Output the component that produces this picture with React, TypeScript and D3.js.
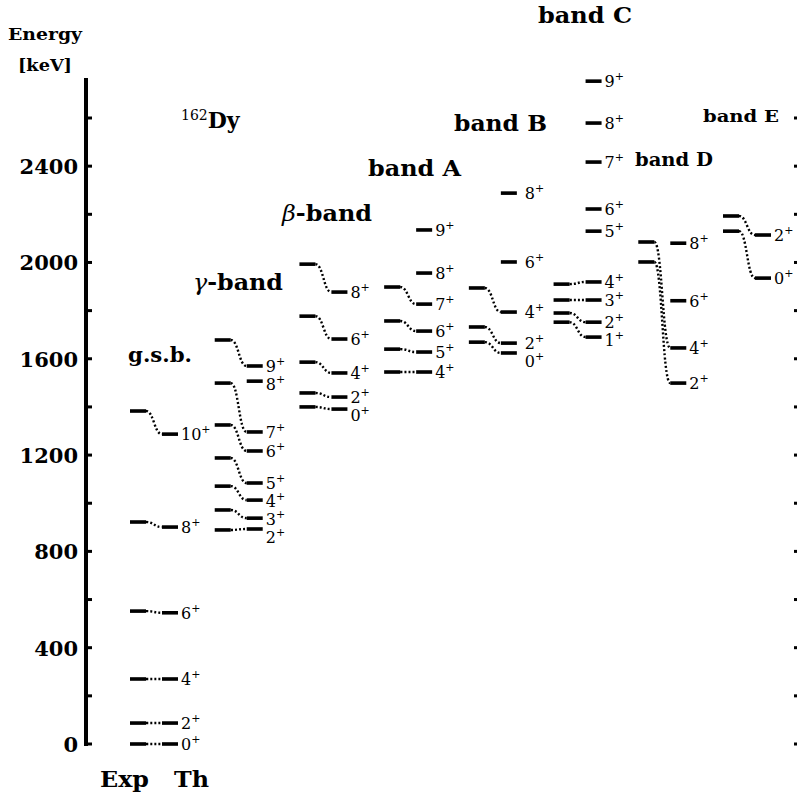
import React, { useRef, useEffect } from "react";
import * as d3 from "d3";

// band order left to right
const bandKeys = ["gsb", "gamma", "beta", "A", "B", "C", "D", "E"];

// spins and energies (keV), null = no level
const gsbSpins = [0, 2, 4, 6, 8, 10];
const gsbExp = [0, 87, 270, 552, 922, 1383];
const gsbTh = [0, 87, 270, 545, 901, 1287];

const gammaSpins = [2, 3, 4, 5, 6, 7, 8, 9];
const gammaExp = [889, 972, 1071, 1188, 1325, 1499, null, 1678];
const gammaTh = [893, 938, 1013, 1084, 1217, 1296, 1507, 1570];

const betaSpins = [0, 2, 4, 6, 8];
const betaExp = [1400, 1458, 1586, 1777, 1993];
const betaTh = [1391, 1441, 1541, 1682, 1877];

const aSpins = [4, 5, 6, 7, 8, 9];
const aExp = [1545, 1640, 1757, 1898, null, null];
const aTh = [1545, 1628, 1715, 1827, 1956, 2135];

const bSpins = [0, 2, 4, 6, 8];
const bExp = [1669, 1732, 1894, null, null];
const bTh = [1624, 1665, 1794, 2002, 2288];

const cSpins = [1, 2, 3, 4, 5, 6, 7, 8, 9];
const cExp = [1752, 1790, 1844, 1910, null, null, null, null, null];
const cTh = [1690, 1752, 1844, 1919, 2130, 2222, 2417, 2579, 2753];

const dSpins = [2, 4, 6, 8];
const dExp = [2002, 2085, null, null];
const dTh = [1499, 1645, 1841, 2080];

const eSpins = [0, 2];
const eExp = [2130, 2193];
const eTh = [1935, 2114];

const axisTicks = d3.range(0, 2601, 200);
const axisLabels = [0, 400, 800, 1200, 1600, 2000, 2400];

const bands = [
  { spins: gsbSpins, exp: gsbExp, th: gsbTh },
  { spins: gammaSpins, exp: gammaExp, th: gammaTh },
  { spins: betaSpins, exp: betaExp, th: betaTh },
  { spins: aSpins, exp: aExp, th: aTh },
  { spins: bSpins, exp: bExp, th: bTh },
  { spins: cSpins, exp: cExp, th: cTh },
  { spins: dSpins, exp: dExp, th: dTh },
  { spins: eSpins, exp: eExp, th: eTh },
];

const W = 799;
const H = 793;
const SERIF = "'DejaVu Serif', 'Liberation Serif', serif";

export default function App() {
  const ref = useRef<SVGSVGElement>(null);

  useEffect(() => {
    const svg = d3.select(ref.current);
    svg.selectAll("*").remove();
    svg.append("rect").attr("width", W).attr("height", H).attr("fill", "#fff");

    const y = d3.scaleLinear().domain([0, 2600]).range([744, 118]);
    const x = d3.scaleLinear().domain([0, bandKeys.length - 1]).range([130, 723]);
    const lineLen = 16;
    const thOff = 32;

    // left axis
    const ax = svg.append("g");
    ax.append("line")
      .attr("x1", 86).attr("x2", 86)
      .attr("y1", y(2766)).attr("y2", y(0) + 2)
      .attr("stroke", "#000").attr("stroke-width", 4);
    ax.selectAll("line.tick")
      .data(axisTicks)
      .enter()
      .append("line")
      .attr("class", "tick")
      .attr("x1", 86).attr("x2", 92)
      .attr("y1", d => y(d)).attr("y2", d => y(d))
      .attr("stroke", "#000").attr("stroke-width", 3);
    ax.selectAll("text")
      .data(axisLabels)
      .enter()
      .append("text")
      .attr("x", 78)
      .attr("y", d => y(d) + 8)
      .attr("text-anchor", "end")
      .attr("font-family", SERIF)
      .attr("font-weight", "bold")
      .attr("font-size", 21)
      .text(d => d);

    // right dotted ticks
    svg.selectAll("rect.rdot")
      .data(axisTicks)
      .enter()
      .append("rect")
      .attr("class", "rdot")
      .attr("x", 794).attr("y", d => y(d) - 1.5)
      .attr("width", 3).attr("height", 3)
      .attr("fill", "#000");

    const link = d3.linkHorizontal<any, [number, number]>()
      .source((d: any) => d[0])
      .target((d: any) => d[1]);

    bands.forEach((band, bi) => {
      const g = svg.append("g");
      const ex0 = x(bi);
      const tx0 = ex0 + thOff;
      const labelGap = bandKeys[bi] === "B" ? 8 : 3;

      const levels = band.spins.map((s, i) => ({ spin: s, exp: band.exp[i], th: band.th[i] }));

      // connectors
      g.selectAll("path")
        .data(levels.filter(l => l.exp != null && l.th != null))
        .enter()
        .append("path")
        .attr("d", l => link([[ex0 + lineLen, y(l.exp as number)], [tx0, y(l.th as number)]] as any))
        .attr("fill", "none")
        .attr("stroke", "#000")
        .attr("stroke-width", 2.4)
        .attr("stroke-dasharray", "2 2.2");

      // experimental levels
      g.selectAll("line.exp")
        .data(levels.filter(l => l.exp != null))
        .enter()
        .append("line")
        .attr("class", "exp")
        .attr("x1", ex0).attr("x2", ex0 + lineLen)
        .attr("y1", l => y(l.exp as number)).attr("y2", l => y(l.exp as number))
        .attr("stroke", "#000").attr("stroke-width", 3.6);

      // theoretical levels
      const thLevels = levels.filter(l => l.th != null);
      g.selectAll("line.th")
        .data(thLevels)
        .enter()
        .append("line")
        .attr("class", "th")
        .attr("x1", tx0).attr("x2", tx0 + lineLen)
        .attr("y1", l => y(l.th as number)).attr("y2", l => y(l.th as number))
        .attr("stroke", "#000").attr("stroke-width", 3.6);

      // spin labels, pushed apart top to bottom
      const sorted = thLevels.slice().sort((a, b) => (b.th as number) - (a.th as number));
      let prev = -Infinity;
      const placed = sorted.map(l => {
        const ly = Math.max(y(l.th as number), prev + 18);
        prev = ly;
        return { ...l, ly };
      });
      const t = g.selectAll("text.lbl")
        .data(placed)
        .enter()
        .append("text")
        .attr("class", "lbl")
        .attr("x", tx0 + lineLen + labelGap)
        .attr("y", l => l.ly + 6)
        .attr("font-family", SERIF)
        .attr("font-size", 16);
      t.append("tspan").text(l => l.spin);
      t.append("tspan").attr("dy", -7).attr("font-size", 11).text("+");
    });

    // titles
    const bold = (txt: string, px: number, py: number, fs: number, w?: number) => {
      const el = svg.append("text")
        .attr("x", px).attr("y", py)
        .attr("font-family", SERIF)
        .attr("font-weight", "bold")
        .attr("font-size", fs)
        .text(txt);
      if (w) el.attr("textLength", w).attr("lengthAdjust", "spacingAndGlyphs");
      return el;
    };
    bold("Energy", 8, 40, 17, 74);
    bold("[keV]", 18, 71, 17, 54);
    bold("g.s.b.", 128, 362, 21, 64);
    bold("band A", 368, 176, 22, 93);
    bold("band B", 454, 131, 22, 93);
    bold("band C", 538, 23, 22, 94);
    bold("band D", 635, 166, 18, 78);
    bold("band E", 703, 122, 17, 76);
    bold("Exp", 100, 787, 22, 49);
    bold("Th", 174, 787, 22, 35);

    const greek = (sym: string, px: number, py: number) => {
      const el = svg.append("text")
        .attr("x", px).attr("y", py)
        .attr("font-family", SERIF)
        .attr("font-size", 22);
      el.append("tspan").attr("font-style", "italic").text(sym);
      el.append("tspan").attr("font-weight", "bold").text("-band");
      el.attr("textLength", 90).attr("lengthAdjust", "spacingAndGlyphs");
    };
    greek("γ", 193, 290);
    greek("β", 282, 221);

    const dy = svg.append("text").attr("x", 181).attr("y", 128).attr("font-family", SERIF);
    dy.append("tspan").attr("font-size", 14).attr("dy", -8).text("162");
    dy.append("tspan").attr("font-size", 22).attr("font-weight", "bold").attr("dy", 8).text("Dy");
  }, []);

  return (
    <svg
      ref={ref}
      width={W}
      height={H}
      style={{ position: "absolute", left: 0, top: 0, display: "block" }}
    />
  );
}
